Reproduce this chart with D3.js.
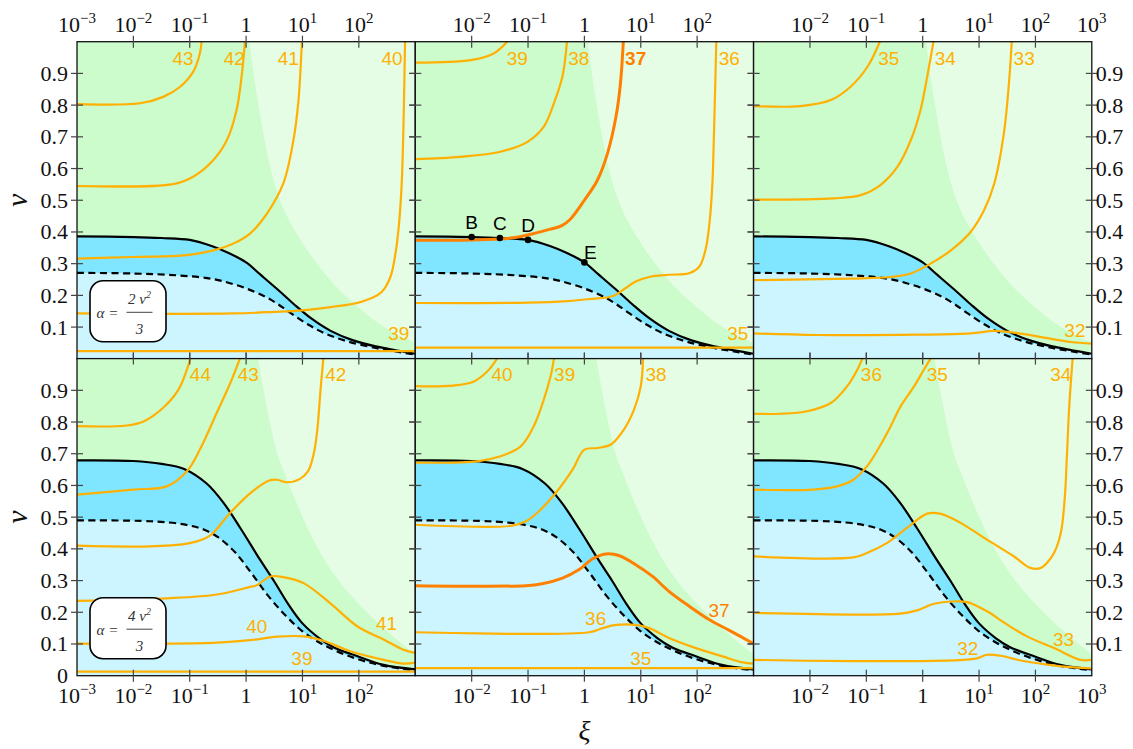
<!DOCTYPE html>
<html><head><meta charset="utf-8">
<script src="https://cdn.jsdelivr.net/npm/d3@7"></script>
<style>body{margin:0;background:#fff;} svg{display:block;}</style>
</head><body><svg id="c" width="1133" height="749"></svg>
<script>
// ---------- DATA (ξ given as log10 ξ, ν linear) ----------
const xiExponents = [-3,-2,-1,0,1,2,3];
const nuTicks = [0.1,0.2,0.3,0.4,0.5,0.6,0.7,0.8,0.9];

const solidTop = [[-3,0.386],[-2,0.384],[-1.5,0.381],[-1.0,0.375],[-0.6,0.355],[-0.3,0.333],[0,0.304],[0.25,0.266],[0.55,0.22],[0.85,0.172],[1.15,0.128],[1.5,0.088],[1.9,0.058],[2.3,0.039],[2.65,0.027],[3.0,0.016]];
const dashedTop = [[-3,0.271],[-2,0.269],[-1.2,0.263],[-0.6,0.252],[-0.2,0.234],[0.1,0.215],[0.35,0.195],[0.55,0.174],[0.8,0.143],[1.1,0.108],[1.4,0.08],[1.8,0.055],[2.3,0.034],[2.7,0.022],[3.0,0.013]];
const solidBottom = [[-3,0.679],[-2,0.677],[-1.5,0.668],[-1.1,0.652],[-0.7,0.606],[-0.4,0.545],[-0.1,0.465],[0.25,0.365],[0.5,0.297],[0.75,0.225],[1.0,0.165],[1.3,0.118],[1.55,0.09],[2.0,0.06],[2.44,0.034],[3.0,0.02]];
const dashedBottom = [[-3,0.49],[-1.7,0.487],[-1.1,0.477],[-0.75,0.461],[-0.5,0.437],[-0.2,0.39],[0.1,0.322],[0.4,0.25],[0.7,0.19],[1.0,0.14],[1.4,0.095],[1.9,0.057],[2.44,0.031],[3.0,0.017]];
const boundaryTop = [[0.06,1.0],[0.2,0.82],[0.42,0.61],[0.58,0.51],[0.76,0.437],[1.02,0.36],[1.3,0.29],[1.6,0.227],[1.9,0.177],[2.2,0.132],[2.5,0.095],[2.75,0.07],[3.0,0.05]];
const boundaryBottom = [[0.21,1.0],[0.31,0.9],[0.42,0.8],[0.55,0.7],[0.68,0.639],[0.92,0.534],[1.17,0.437],[1.5,0.335],[1.85,0.255],[2.2,0.19],[2.5,0.14],[2.8,0.095],[3.0,0.068]];

const contoursTL = [
  {level:39, pts:[[-3,0.024],[3,0.024]]},
  {level:40, pts:[[-3,0.143],[-0.22,0.143],[0.5,0.148],[1.0,0.153],[1.5,0.163],[2.05,0.18],[2.4,0.21],[2.56,0.258],[2.65,0.332],[2.71,0.42],[2.76,0.55],[2.79,0.72],[2.82,1.0]]},
  {level:41, pts:[[-3,0.316],[-2,0.321],[-1.05,0.327],[-0.58,0.342],[-0.22,0.364],[0.07,0.395],[0.37,0.458],[0.66,0.553],[0.84,0.69],[0.93,0.816],[0.98,0.963],[0.99,1.0]]},
  {level:42, pts:[[-3,0.545],[-1.29,0.551],[-0.94,0.574],[-0.58,0.627],[-0.34,0.69],[-0.17,0.784],[-0.08,0.89],[-0.02,1.0]]},
  {level:43, pts:[[-3,0.803],[-1.88,0.806],[-1.47,0.826],[-1.17,0.858],[-0.94,0.905],[-0.82,0.963],[-0.79,1.0]]}
];
const contoursTM = [
  {level:35, pts:[[-3,0.035],[3,0.035]]},
  {level:36, pts:[[-3,0.176],[-1,0.177],[-0.3,0.182],[0,0.187],[0.44,0.195],[0.56,0.202],[0.73,0.223],[0.91,0.244],[1.15,0.258],[1.5,0.265],[1.86,0.27],[2.04,0.291],[2.15,0.345],[2.22,0.43],[2.27,0.55],[2.3,0.72],[2.34,1.0]]},
  {level:37, hi:true, pts:[[-3,0.374],[-2,0.375],[-1.5,0.378],[-1.2,0.383],[-0.95,0.393],[-0.62,0.408],[-0.4,0.42],[-0.25,0.44],[0,0.5],[0.23,0.563],[0.41,0.648],[0.56,0.763],[0.64,0.869],[0.69,1.0]]},
  {level:38, pts:[[-3,0.63],[-2.2,0.637],[-1.49,0.653],[-1.01,0.684],[-0.72,0.732],[-0.54,0.806],[-0.39,0.89],[-0.33,0.963],[-0.31,1.0]]},
  {level:39, pts:[[-3,0.934],[-2.02,0.942],[-1.61,0.963],[-1.37,1.0]]}
];
const contoursTR = [
  {level:32, pts:[[-3,0.08],[-1.87,0.075],[-0.09,0.076],[0.85,0.08],[1.27,0.088],[1.68,0.081],[2.15,0.067],[2.63,0.053],[3.0,0.048]]},
  {level:33, pts:[[-3,0.248],[-1.28,0.253],[-0.57,0.258],[-0.21,0.269],[0.14,0.3],[0.5,0.342],[0.85,0.4],[1.09,0.469],[1.27,0.553],[1.44,0.711],[1.53,0.869],[1.58,1.0]]},
  {level:34, pts:[[-3,0.502],[-1.58,0.506],[-1.1,0.516],[-0.75,0.548],[-0.45,0.605],[-0.21,0.69],[-0.04,0.784],[0.08,0.89],[0.19,1.0]]},
  {level:35, pts:[[-3,0.797],[-2.17,0.797],[-1.63,0.816],[-1.28,0.858],[-0.98,0.921],[-0.76,1.0]]}
];
const contoursBL = [
  {level:39, pts:[[-3,0.013],[3,0.013]]},
  {level:40, pts:[[-3,0.101],[-1.41,0.101],[-0.52,0.104],[0.07,0.112],[0.55,0.123],[1.02,0.124],[1.37,0.11],[1.85,0.077],[2.44,0.05],[2.79,0.038],[3.0,0.041]]},
  {level:41, pts:[[-3,0.236],[-1.41,0.244],[-0.52,0.256],[0.07,0.28],[0.19,0.285],[0.43,0.313],[0.66,0.311],[1.02,0.292],[1.49,0.229],[1.97,0.156],[2.44,0.114],[2.79,0.082],[3.0,0.072]]},
  {level:42, pts:[[-3,0.41],[-1.7,0.408],[-1.0,0.418],[-0.64,0.442],[-0.3,0.51],[0.05,0.572],[0.4,0.615],[0.55,0.618],[0.72,0.61],[0.95,0.62],[1.1,0.645],[1.2,0.7],[1.26,0.77],[1.32,0.9],[1.37,1.0]]},
  {level:43, pts:[[-3,0.571],[-2.0,0.587],[-1.41,0.597],[-1.05,0.645],[-0.82,0.713],[-0.52,0.829],[-0.28,0.923],[-0.11,1.0]]},
  {level:44, pts:[[-3,0.787],[-2.12,0.789],[-1.82,0.802],[-1.47,0.845],[-1.2,0.902],[-1.05,0.965],[-0.99,1.0]]}
];
const contoursBM = [
  {level:35, pts:[[-3,0.024],[3,0.024]]},
  {level:36, pts:[[-3,0.137],[0.08,0.137],[0.32,0.15],[0.56,0.16],[0.91,0.16],[1.15,0.15],[1.5,0.119],[1.98,0.087],[2.45,0.061],[2.81,0.042],[3.0,0.038]]},
  {level:37, hi:true, pts:[[-3,0.284],[-1.04,0.284],[-0.75,0.29],[-0.39,0.308],[-0.1,0.334],[0.14,0.368],[0.38,0.384],[0.61,0.379],[0.91,0.35],[1.21,0.313],[1.5,0.266],[1.86,0.219],[2.21,0.177],[2.57,0.143],[3.0,0.101]]},
  {level:38, pts:[[-3,0.476],[-1.28,0.473],[-1.04,0.487],[-0.81,0.518],[-0.51,0.576],[-0.21,0.65],[0.0,0.713],[0.23,0.718],[0.47,0.729],[0.70,0.776],[0.88,0.839],[1.0,0.913],[1.04,1.0]]},
  {level:39, pts:[[-3,0.672],[-1.9,0.676],[-1.49,0.692],[-1.13,0.723],[-0.9,0.786],[-0.72,0.871],[-0.6,0.944],[-0.54,1.0]]},
  {level:40, pts:[[-3,0.913],[-2.32,0.915],[-1.96,0.928],[-1.72,0.96],[-1.55,1.0]]}
];
const contoursBR = [
  {level:32, pts:[[-3,0.05],[0.91,0.053],[1.14,0.066],[1.38,0.063],[1.74,0.048],[2.21,0.035],[2.68,0.026],[3.0,0.023]]},
  {level:33, pts:[[-3,0.198],[-0.4,0.196],[-0.1,0.206],[0.2,0.227],[0.55,0.234],[0.79,0.232],[1.14,0.203],[1.5,0.161],[1.85,0.124],[2.33,0.087],[2.8,0.05],[3.0,0.05]]},
  {level:34, pts:[[-3,0.376],[-1.23,0.373],[-0.99,0.387],[-0.63,0.419],[-0.28,0.466],[0.08,0.511],[0.31,0.511],[0.67,0.482],[1.14,0.429],[1.62,0.376],[1.91,0.34],[2.1,0.34],[2.2,0.355],[2.33,0.387],[2.45,0.45],[2.52,0.56],[2.56,0.7],[2.6,0.85],[2.66,1.0]]},
  {level:35, pts:[[-3,0.587],[-1.94,0.587],[-1.52,0.597],[-1.23,0.618],[-0.99,0.66],[-0.78,0.718],[-0.57,0.786],[-0.39,0.85],[-0.15,0.913],[0.02,0.965],[0.14,1.0]]},
  {level:36, pts:[[-3,0.826],[-2.52,0.826],[-2.05,0.834],[-1.63,0.86],[-1.34,0.913],[-1.16,0.965],[-1.07,1.0]]}
];

const labelsTL = [{t:"43",at:[-1.12,0.947]},{t:"42",at:[-0.21,0.947]},{t:"41",at:[0.75,0.947]},{t:"40",at:[2.59,0.947]},{t:"39",at:[2.71,0.08]}];
const labelsTM = [{t:"39",at:[-1.19,0.947]},{t:"38",at:[-0.10,0.947]},{t:"37",at:[0.91,0.947],hi:true,bold:true},{t:"36",at:[2.57,0.947]},{t:"35",at:[2.72,0.08]}];
const labelsTR = [{t:"35",at:[-0.6,0.947]},{t:"34",at:[0.4,0.947]},{t:"33",at:[1.8,0.947]},{t:"32",at:[2.7,0.09]}];
const labelsBL = [{t:"44",at:[-0.81,0.95]},{t:"43",at:[0.04,0.95]},{t:"42",at:[1.59,0.95]},{t:"41",at:[2.49,0.166]},{t:"40",at:[0.19,0.156]},{t:"39",at:[0.99,0.056]}];
const labelsBM = [{t:"40",at:[-1.46,0.95]},{t:"39",at:[-0.35,0.95]},{t:"38",at:[1.27,0.95]},{t:"37",at:[2.39,0.208],hi:true},{t:"36",at:[0.2,0.182]},{t:"35",at:[1.0,0.056]}];
const labelsBR = [{t:"36",at:[-0.91,0.95]},{t:"35",at:[0.26,0.95]},{t:"34",at:[2.45,0.95]},{t:"33",at:[2.5,0.116]},{t:"32",at:[0.8,0.087]}];

const markedPoints = [{t:"B",at:[-2,0.384]},{t:"C",at:[-1.5,0.381]},{t:"D",at:[-1.0,0.375]},{t:"E",at:[0,0.304]}];
const legendNumerators = ["2","4"];

// ---------- LAYOUT ----------
const colLeft = [77, 415.3, 753.6], panelW = 338.2;
const rowTop = [41.7, 358.6], panelH = 317.1;
const C = {dkGreen:"#ccfbcc", ltGreen:"#e4fde4", dkBlue:"#80e6ff", ltBlue:"#ccf5ff",
  orange:"#ffb000", hiOrange:"#ff8000"};

const panels = [
  {row:0,col:0,cont:contoursTL,lab:labelsTL,xLab:[-3,-2,-1,0,1,2],yLab:"left",yVals:nuTicks,legend:0},
  {row:0,col:1,cont:contoursTM,lab:labelsTM,xLab:[-2,-1,0,1,2],yLab:null,pts:true},
  {row:0,col:2,cont:contoursTR,lab:labelsTR,xLab:[-2,-1,0,1,2,3],yLab:"right",yVals:nuTicks},
  {row:1,col:0,cont:contoursBL,lab:labelsBL,xLab:[-3,-2,-1,0,1,2],yLab:"left",yVals:[0].concat(nuTicks),legend:1},
  {row:1,col:1,cont:contoursBM,lab:labelsBM,xLab:[-2,-1,0,1,2],yLab:null},
  {row:1,col:2,cont:contoursBR,lab:labelsBR,xLab:[-2,-1,0,1,2,3],yLab:"right",yVals:nuTicks}
];

const svg = d3.select("#c");
const defs = svg.append("defs");
const serif = "'Liberation Serif','Times New Roman',serif";
const sans = "'Liberation Sans',Arial,sans-serif";

function expLabel(sel, e){
  if(e===0){ sel.text("1"); return; }
  sel.append("tspan").text("10");
  sel.append("tspan").attr("dy",-9).attr("font-size",15).text(e<0 ? "\u2212"+(-e) : String(e));
}

panels.forEach((p,i)=>{
  const x0 = colLeft[p.col], y0 = rowTop[p.row], x1 = x0+panelW, y1 = y0+panelH;
  const x = d3.scaleLog().domain([1e-3,1e3]).range([x0,x1]);
  const y = d3.scaleLinear().domain([0,1]).range([y1,y0]);
  const X = d => x(Math.pow(10,d[0])), Y = d => y(d[1]);
  const curve = d3.curveCatmullRom.alpha(0.5);
  const line = d3.line().x(X).y(Y).curve(curve);

  defs.append("clipPath").attr("id","clip"+i).append("rect")
    .attr("x",x0).attr("y",y0).attr("width",panelW).attr("height",panelH);
  const g = svg.append("g").attr("clip-path",`url(#clip${i})`);

  const solid = p.row===0 ? solidTop : solidBottom;
  const dashed = p.row===0 ? dashedTop : dashedBottom;
  const bnd = p.row===0 ? boundaryTop : boundaryBottom;

  g.append("rect").attr("x",x0).attr("y",y0).attr("width",panelW).attr("height",panelH).attr("fill",C.dkGreen);
  const last = bnd[bnd.length-1];
  g.append("path").attr("fill",C.ltGreen)
    .attr("d", line(bnd) + `L${x1+5},${Y(last)}L${x1+5},${y0-5}L${X(bnd[0])},${y0-5}Z`);
  const area = d3.area().x(X).y0(y1+5).y1(Y).curve(curve);
  g.append("path").attr("fill",C.dkBlue).attr("d",area(solid));
  g.append("path").attr("fill",C.ltBlue).attr("d",area(dashed));
  g.append("path").attr("fill","none").attr("stroke","#000").attr("stroke-width",2.2)
    .attr("stroke-dasharray","7,4.5").attr("d",line(dashed));
  g.append("path").attr("fill","none").attr("stroke","#000").attr("stroke-width",2.2).attr("d",line(solid));

  p.cont.forEach(c=>{
    g.append("path").attr("fill","none")
      .attr("stroke", c.hi ? C.hiOrange : C.orange)
      .attr("stroke-width", c.hi ? 3 : 2.2)
      .attr("stroke-linejoin","round")
      .attr("d", line(c.pts));
  });

  p.lab.forEach(l=>{
    svg.append("text").attr("x",X(l.at)).attr("y",Y(l.at)).attr("dy","0.36em")
      .attr("text-anchor","middle").attr("font-family",sans).attr("font-size",19)
      .attr("font-weight", l.bold ? "bold" : "normal")
      .attr("fill", l.hi ? C.hiOrange : C.orange).text(l.t);
  });

  if(p.pts){
    markedPoints.forEach((m,k)=>{
      svg.append("circle").attr("cx",X(m.at)).attr("cy",Y(m.at)).attr("r",3.3).attr("fill","#000");
      const isE = m.t==="E";
      svg.append("text").attr("x",X(m.at)+(isE?6:0)).attr("y",Y(m.at)-(isE?10:15)).attr("dy","0.36em")
        .attr("text-anchor","middle").attr("font-family",sans).attr("font-size",19).attr("fill","#000").text(m.t);
    });
  }

  if(p.legend!==undefined){
    const lg = svg.append("g").attr("transform",`translate(${x0+13},${y1-78})`);
    lg.append("rect").attr("width",76).attr("height",61).attr("rx",13).attr("ry",13)
      .attr("fill","#fff").attr("stroke","#000").attr("stroke-width",1.6);
    const tf = s => s.attr("font-family",serif).attr("font-style","italic").attr("font-size",15).attr("fill","#333").attr("text-anchor","middle");
    tf(lg.append("text").attr("x",10.5).attr("y",37)).text("\u03b1");
    tf(lg.append("text").attr("x",23.5).attr("y",37)).attr("font-style","normal").text("=");
    const num = tf(lg.append("text").attr("x",49.5).attr("y",23));
    num.append("tspan").text(legendNumerators[p.legend]+" \u03bd");
    num.append("tspan").attr("dy",-6).attr("font-size",10).text("2");
    lg.append("line").attr("x1",36.5).attr("x2",62.5).attr("y1",31.5).attr("y2",31.5).attr("stroke","#444").attr("stroke-width",1);
    tf(lg.append("text").attr("x",49.5).attr("y",53)).text("3");
  }

  // frame
  svg.append("rect").attr("x",x0).attr("y",y0).attr("width",panelW).attr("height",panelH)
    .attr("fill","none").attr("stroke","#111").attr("stroke-width",1.3);
  // ticks
  const tk = svg.append("g").attr("stroke","#444").attr("stroke-width",1.2);
  xiExponents.slice(1,-1).forEach(e=>{
    const xx = x(Math.pow(10,e));
    tk.append("line").attr("x1",xx).attr("x2",xx).attr("y1",y0-6).attr("y2",y0+6);
    tk.append("line").attr("x1",xx).attr("x2",xx).attr("y1",y1-6).attr("y2",y1+6);
  });
  nuTicks.forEach(v=>{
    const yy = y(v);
    tk.append("line").attr("x1",x0-6).attr("x2",x0+6).attr("y1",yy).attr("y2",yy);
    tk.append("line").attr("x1",x1-6).attr("x2",x1+6).attr("y1",yy).attr("y2",yy);
  });

  // tick labels
  p.xLab.forEach(e=>{
    const t = svg.append("text").attr("x",x(Math.pow(10,e)))
      .attr("y", p.row===0 ? y0-10 : y1+27)
      .attr("text-anchor","middle").attr("font-family",serif).attr("font-size",22).attr("fill","#111");
    expLabel(t,e);
  });
  if(p.yLab){
    p.yVals.forEach(v=>{
      svg.append("text").attr("x", p.yLab==="left" ? x0-9 : x1+4).attr("y",y(v)+7.5)
        .attr("text-anchor", p.yLab==="left" ? "end" : "start")
        .attr("font-family",serif).attr("font-size",22).attr("fill","#111")
        .text(v===0 ? "0" : d3.format(".1f")(v));
    });
  }
});

// axis titles
[0,1].forEach(r=>{
  const cy = rowTop[r]+panelH/2;
  svg.append("text").attr("transform",`translate(27,${cy}) rotate(-90)`)
    .attr("text-anchor","middle").attr("font-family",serif).attr("font-style","italic")
    .attr("font-size",30).attr("fill","#111").text("\u03bd");
});
svg.append("text").attr("x",colLeft[1]+panelW/2).attr("y",740).attr("text-anchor","middle")
  .attr("font-family",serif).attr("font-style","italic").attr("font-size",28).attr("fill","#111").text("\u03be");
</script></body></html>
